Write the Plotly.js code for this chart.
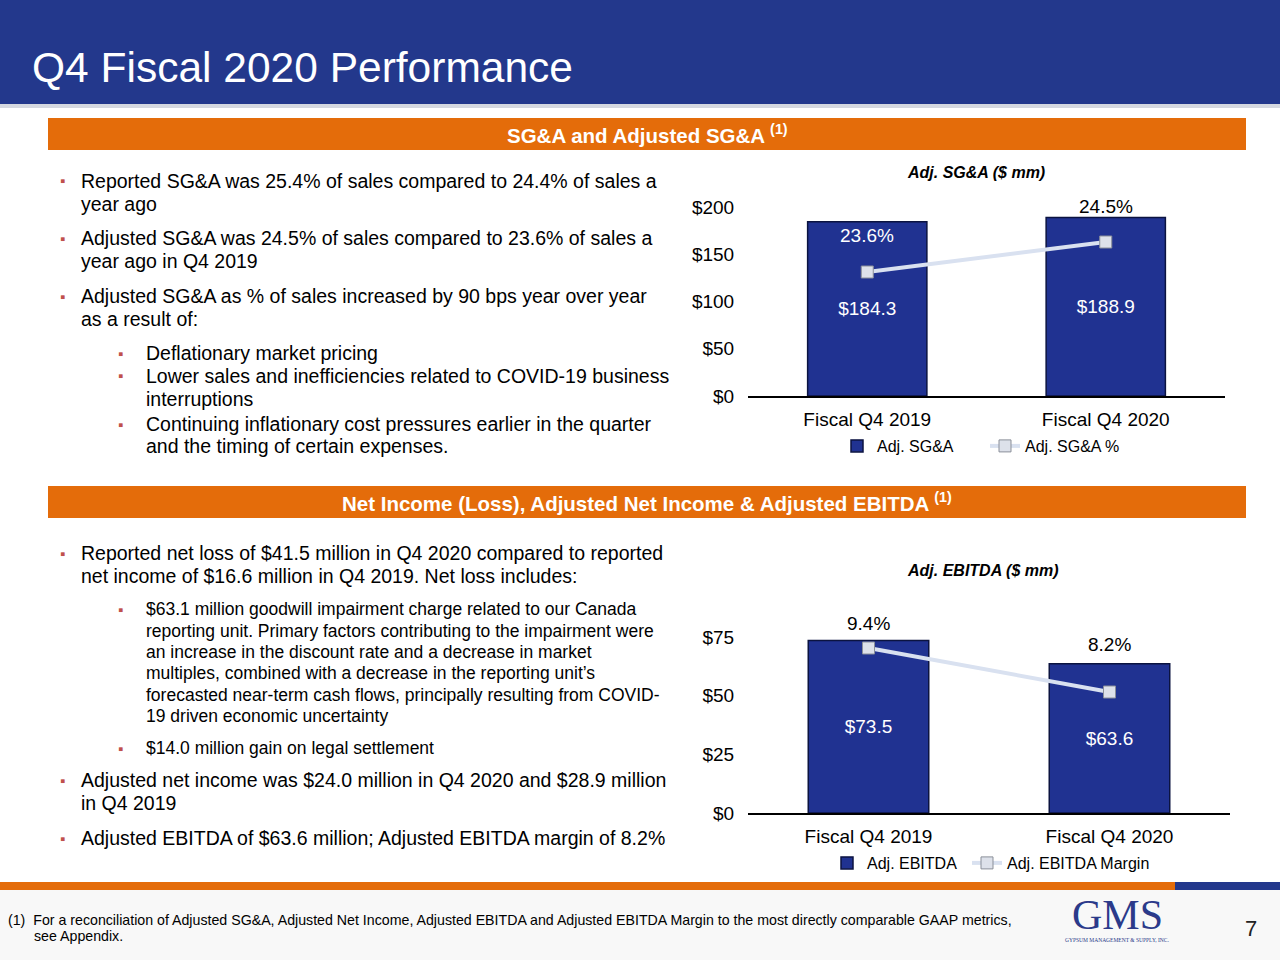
<!DOCTYPE html>
<html>
<head>
<meta charset="utf-8">
<script src="https://cdn.plot.ly/plotly-3.0.1.min.js"></script>
<style>html,body{margin:0;padding:0;background:#fff;}#chart{width:1280px;height:960px;}</style>
</head>
<body>
<div id="chart"></div>
<script>
// ---------- DATA ----------
const categories = ['Fiscal Q4 2019', 'Fiscal Q4 2020'];
const sgaValues = [184.3, 188.9];
const sgaPct = [23.6, 24.5];
const ebitdaValues = [73.5, 63.6];
const ebitdaMargin = [9.4, 8.2];
const sgaTickVals = [0, 50, 100, 150, 200];
const sgaTickText = ['$0', '$50', '$100', '$150', '$200'];
const ebitdaTickVals = [0, 25, 50, 75];
const ebitdaTickText = ['$0', '$25', '$50', '$75'];

const pageTitle = 'Q4 Fiscal 2020 Performance';
const section1Title = 'SG&A and Adjusted SG&A <sup>(1)</sup>';
const section2Title = 'Net Income (Loss), Adjusted Net Income & Adjusted EBITDA <sup>(1)</sup>';
const chart1Title = '<b><i>Adj. SG&A ($ mm)</i></b>';
const chart2Title = '<b><i>Adj. EBITDA ($ mm)</i></b>';
const seriesNames1 = ['Adj. SG&A', 'Adj. SG&A %'];
const seriesNames2 = ['Adj. EBITDA', 'Adj. EBITDA Margin'];

// left-hand text: [level, text, yPixel, bullet?]
const text1 = [
  [0, 'Reported SG&A was 25.4% of sales compared to 24.4% of sales a', 181, true],
  [0, 'year ago', 204, false],
  [0, 'Adjusted SG&A was 24.5% of sales compared to 23.6% of sales a', 238, true],
  [0, 'year ago in Q4 2019', 261, false],
  [0, 'Adjusted SG&A as % of sales increased by 90 bps year over year', 296, true],
  [0, 'as a result of:', 319, false],
  [1, 'Deflationary market pricing', 353, true],
  [1, 'Lower sales and inefficiencies related to COVID-19 business', 376, true],
  [1, 'interruptions', 399, false],
  [1, 'Continuing inflationary cost pressures earlier in the quarter', 424, true],
  [1, 'and the timing of certain expenses.', 446, false]
];
const text2 = [
  [0, 'Reported net loss of $41.5 million in Q4 2020 compared to reported', 553, true],
  [0, 'net income of $16.6 million in Q4 2019. Net loss includes:', 576, false],
  [2, '$63.1 million goodwill impairment charge related to our Canada', 609, true],
  [2, 'reporting unit. Primary factors contributing to the impairment were', 631, false],
  [2, 'an increase in the discount rate and a decrease in market', 652, false],
  [2, 'multiples, combined with a decrease in the reporting unit\u2019s', 673, false],
  [2, 'forecasted near-term cash flows, principally resulting from COVID-', 695, false],
  [2, '19 driven economic uncertainty', 716, false],
  [2, '$14.0 million gain on legal settlement', 748, true],
  [0, 'Adjusted net income was $24.0 million in Q4 2020 and $28.9 million', 780, true],
  [0, 'in Q4 2019', 803, false],
  [0, 'Adjusted EBITDA of $63.6 million; Adjusted EBITDA margin of 8.2%', 838, true]
];
const footnote1 = '(1)  For a reconciliation of Adjusted SG&A, Adjusted Net Income, Adjusted EBITDA and Adjusted EBITDA Margin to the most directly comparable GAAP metrics,';
const footnote2 = 'see Appendix.';

// ---------- STYLE ----------
const W = 1280, H = 960;
const px = x => x / W;
const py = y => 1 - y / H;
const FONT = 'Liberation Sans, Arial, sans-serif';
const BLUE = '#23388C';
const BAR = '#203291';
const ORANGE = '#E46C0A';
const BULLET = '#C0504D';
const LINECOL = '#D9E1F0';
const CHART_FS = 19;

const barTrace = (y, name, xa, ya, leg) => ({
  type: 'bar', x: categories, y: y, name: name, xaxis: xa, yaxis: ya, legend: leg,
  width: 0.5,
  marker: {color: BAR, line: {color: '#0B1340', width: 1.5}},
  texttemplate: '$%{y:.1f}', textposition: 'inside', insidetextanchor: 'middle',
  textfont: {color: '#FFFFFF', size: CHART_FS, family: FONT},
  constraintext: 'none', hoverinfo: 'skip'
});
const lineTrace = (y, name, xa, ya, leg) => ({
  type: 'scatter', mode: 'lines+markers', x: categories, y: y, name: name,
  xaxis: xa, yaxis: ya, legend: leg,
  line: {color: LINECOL, width: 4},
  marker: {symbol: 'square', size: 12, color: '#DDE1EA', line: {color: '#8A8F99', width: 1}},
  hoverinfo: 'skip'
});

const data = [
  barTrace(sgaValues, seriesNames1[0], 'x', 'y', 'legend'),
  lineTrace(sgaPct, seriesNames1[1], 'x', 'y3', 'legend2'),
  barTrace(ebitdaValues, seriesNames2[0], 'x2', 'y2', 'legend3'),
  lineTrace(ebitdaMargin, seriesNames2[1], 'x2', 'y4', 'legend4')
];

const annotations = [];
const ann = (text, x, y, opts) => annotations.push(Object.assign({
  text: text, x: px(x), y: py(y), xref: 'paper', yref: 'paper', showarrow: false,
  xanchor: 'left', yanchor: 'middle', font: {family: FONT, size: 18, color: '#000'}
}, opts || {}));

ann(pageTitle, 30, 68, {font: {family: FONT, size: 42.5, color: '#FFFFFF'}});
ann(section1Title, 647, 134, {xanchor: 'center', font: {family: FONT, size: 20.5, color: '#FFFFFF', weight: 'bold'}});
ann(section2Title, 647, 502, {xanchor: 'center', font: {family: FONT, size: 20.5, color: '#FFFFFF', weight: 'bold'}});
ann(chart1Title, 976, 172, {xanchor: 'center', font: {family: FONT, size: 16, color: '#000'}});
ann(chart2Title, 983, 570, {xanchor: 'center', font: {family: FONT, size: 16, color: '#000'}});

const levelX = {0: [62, 79, 19.5], 1: [120, 144, 19.5], 2: [120, 144, 17.5]};
[text1, text2].forEach(block => block.forEach(([lvl, t, y, b]) => {
  const [bx, tx, fs] = levelX[lvl];
  ann(t, tx, y, {font: {family: FONT, size: fs, color: '#000'}});
  if (b) ann('\u25AA', bx, y, {xanchor: 'center', font: {family: FONT, size: 15, color: BULLET}});
}));

ann(footnote1, 6, 920, {font: {family: FONT, size: 14.2, color: '#000'}});
ann(footnote2, 32, 936, {font: {family: FONT, size: 14.2, color: '#000'}});
ann('GMS', 1117, 915, {xanchor: 'center', font: {family: 'Liberation Serif, serif', size: 42, color: '#2B3A8A'}});
ann('GYPSUM MANAGEMENT &amp; SUPPLY, INC.', 1117, 940, {xanchor: 'center', font: {family: 'Liberation Serif, serif', size: 5.5, color: '#2B3A8A'}});
ann('7', 1251, 928, {xanchor: 'center', font: {family: FONT, size: 22, color: '#222'}});

// percent labels near the line markers
const pctLabelStyle1 = [{color: '#FFFFFF', shift: 36}, {color: '#000000', shift: 35}];
const pctLabelStyle2 = [{color: '#000000', shift: 25}, {color: '#000000', shift: 48}];
sgaPct.forEach((v, i) => annotations.push({
  text: v.toFixed(1) + '%', x: categories[i], y: v, xref: 'x', yref: 'y3', showarrow: false,
  yshift: pctLabelStyle1[i].shift, font: {family: FONT, size: CHART_FS, color: pctLabelStyle1[i].color}
}));
ebitdaMargin.forEach((v, i) => annotations.push({
  text: v.toFixed(1) + '%', x: categories[i], y: v, xref: 'x2', yref: 'y4', showarrow: false,
  yshift: pctLabelStyle2[i].shift, font: {family: FONT, size: CHART_FS, color: pctLabelStyle2[i].color}
}));

const shapes = [
  {type: 'rect', xref: 'paper', yref: 'paper', x0: 0, x1: 1, y0: py(104), y1: 1, fillcolor: BLUE, line: {width: 0}, layer: 'below'},
  {type: 'rect', xref: 'paper', yref: 'paper', x0: 0, x1: 1, y0: py(108), y1: py(104), fillcolor: '#D5D8E0', line: {width: 0}, layer: 'below'},
  {type: 'rect', xref: 'paper', yref: 'paper', x0: px(48), x1: px(1246), y0: py(150), y1: py(118), fillcolor: ORANGE, line: {width: 0}, layer: 'below'},
  {type: 'rect', xref: 'paper', yref: 'paper', x0: px(48), x1: px(1246), y0: py(518), y1: py(486), fillcolor: ORANGE, line: {width: 0}, layer: 'below'},
  {type: 'rect', xref: 'paper', yref: 'paper', x0: 0, x1: 1, y0: 0, y1: py(890), fillcolor: '#F8F8F8', line: {width: 0}, layer: 'below'},
  {type: 'rect', xref: 'paper', yref: 'paper', x0: 0, x1: px(1175), y0: py(890), y1: py(882), fillcolor: ORANGE, line: {width: 0}, layer: 'below'},
  {type: 'rect', xref: 'paper', yref: 'paper', x0: px(1175), x1: 1, y0: py(890), y1: py(882), fillcolor: BLUE, line: {width: 0}, layer: 'below'}
];

const xAxisBase = {
  type: 'category', range: [-0.5, 1.5], showgrid: false, zeroline: false,
  showline: true, linecolor: '#000', linewidth: 1.5,
  ticks: 'outside', ticklen: 6, tickcolor: 'rgba(0,0,0,0)',
  tickfont: {family: FONT, size: CHART_FS, color: '#000'}, fixedrange: true
};
const yAxisBase = {
  showgrid: false, zeroline: false, showline: false,
  ticks: 'outside', ticklen: 9, tickcolor: 'rgba(0,0,0,0)', tickmode: 'array',
  tickfont: {family: FONT, size: CHART_FS, color: '#000'}, fixedrange: true
};
const legendBase = {
  orientation: 'h', xanchor: 'left', yanchor: 'top',
  font: {family: FONT, size: 16, color: '#000'}, bgcolor: 'rgba(0,0,0,0)', itemwidth: 30, tracegroupgap: 0
};

const layout = {
  width: W, height: H, margin: {l: 0, r: 0, t: 0, b: 0},
  paper_bgcolor: '#FFFFFF', plot_bgcolor: 'rgba(0,0,0,0)',
  showlegend: true, barmode: 'group',
  xaxis: Object.assign({}, xAxisBase, {domain: [px(748), px(1225)], anchor: 'y'}),
  yaxis: Object.assign({}, yAxisBase, {domain: [py(396), py(207)], range: [0, 200], tickvals: sgaTickVals, ticktext: sgaTickText, anchor: 'x'}),
  yaxis3: {overlaying: 'y', anchor: 'x', range: [19.88, 25.55], visible: false, fixedrange: true},
  xaxis2: Object.assign({}, xAxisBase, {domain: [px(748), px(1230)], anchor: 'y2'}),
  yaxis2: Object.assign({}, yAxisBase, {domain: [py(813), py(637)], range: [0, 75], tickvals: ebitdaTickVals, ticktext: ebitdaTickText, anchor: 'x2'}),
  yaxis4: {overlaying: 'y2', anchor: 'x2', range: [4.9, 9.7], visible: false, fixedrange: true},
  legend: Object.assign({}, legendBase, {x: px(837), y: py(429)}),
  legend2: Object.assign({}, legendBase, {x: px(985), y: py(429)}),
  legend3: Object.assign({}, legendBase, {x: px(827), y: py(846)}),
  legend4: Object.assign({}, legendBase, {x: px(967), y: py(846)}),
  annotations: annotations,
  shapes: shapes
};

Plotly.newPlot('chart', data, layout, {displayModeBar: false, staticPlot: true});
</script>
</body>
</html>
